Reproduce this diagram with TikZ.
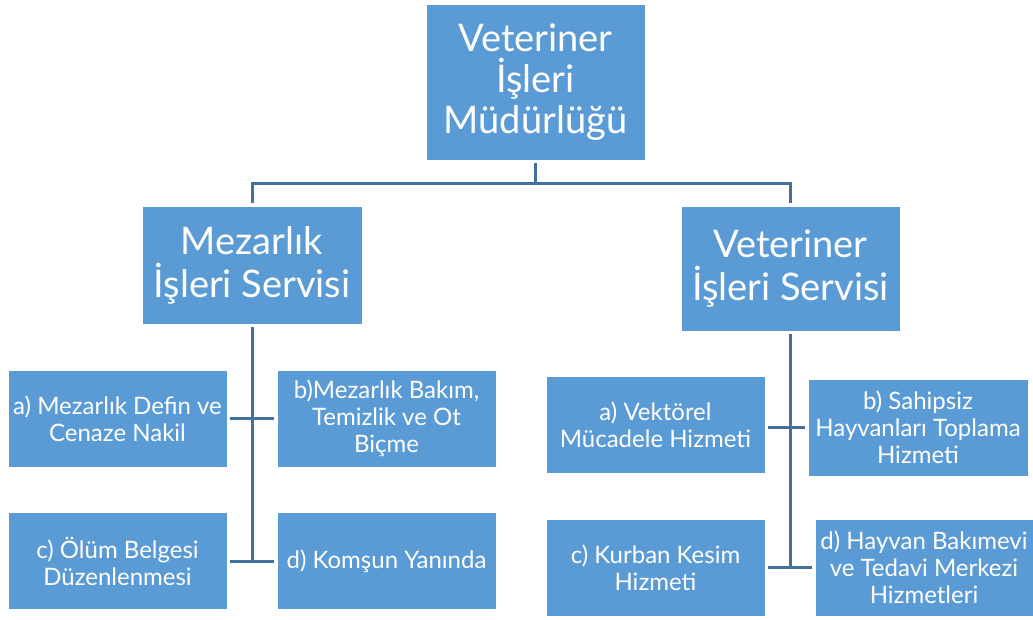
\documentclass[tikz,border=0pt]{standalone}
\usepackage{fontspec}
\setmainfont{Lato}
\usetikzlibrary{positioning}
\definecolor{boxblue}{HTML}{5B9BD5}
\definecolor{lineblue}{HTML}{41719C}
\tikzstyle{bigbox} = [rectangle, fill=boxblue, draw=white, line width=0.8pt, text=white, align=center, inner sep=2pt, font=\fontsize{38}{41}\selectfont]
\tikzstyle{smallbox} = [rectangle, fill=boxblue, draw=white, line width=0.8pt, text=white, align=center, inner sep=2pt, minimum width=219pt, minimum height=97pt, font=\fontsize{24}{27}\selectfont]
\tikzstyle{link} = [lineblue, line width=3pt, shorten <=3pt, shorten >=3pt]

\begin{document}
\begin{tikzpicture}[x=1pt, y=-1pt]
	\useasboundingbox (0,0) rectangle (1033,619);

	\node (mud) [bigbox, minimum width=219pt, minimum height=156pt] at (535.5,82) {Veteriner\\ İşleri\\ Müdürlüğü};
	\node (mez) [bigbox, minimum width=220pt, minimum height=118pt, font=\fontsize{38}{43}\selectfont] at (252,265) {Mezarlık\\ İşleri Servisi};
	\node (vet) [bigbox, minimum width=219pt, minimum height=125pt, font=\fontsize{38}{43}\selectfont] at (790.5,268.5) {Veteriner\\ İşleri Servisi};

	\node (ma) [smallbox] at (117.5,418.5) {a) Mezarlık Defin ve\\ Cenaze Nakil};
	\node (mb) [smallbox] at (386.5,418.5) {b)Mezarlık Bakım,\\ Temizlik ve Ot\\ Biçme};
	\node (mc) [smallbox] at (117.5,561) {c) Ölüm Belgesi\\ Düzenlenmesi};
	\node (md) [smallbox] at (386.5,561) {d) Komşun Yanında};

	\node (va) [smallbox] at (655.5,425) {a) Vektörel\\ Mücadele Hizmeti};
	\node (vb) [smallbox, minimum width=220pt] at (918,427.5) {b) Sahipsiz\\ Hayvanları Toplama\\ Hizmeti};
	\node (vc) [smallbox] at (655.5,567.5) {c) Kurban Kesim\\ Hizmeti};
	\node (vd) [smallbox, minimum width=218pt] at (924,567.5) {d) Hayvan Bakımevi\\ ve Tedavi Merkezi\\ Hizmetleri};

	\coordinate (bus) at (535.5,183);
	\draw [link, shorten >=0pt] (mud.south) -- (bus);
	\draw [link, shorten <=0pt] (bus) -| (mez.north);
	\draw [link, shorten <=0pt] (bus) -| (vet.north);

	\draw [link, shorten >=0pt] (mez.south) -- (mez.south |- mc.east);
	\draw [link] (ma.east) -- (mb.west);
	\draw [link] (mc.east) -- (md.west);

	\draw [link, shorten >=0pt] (vet.south) -- (vet.south |- vc.east);
	\draw [link] (va.east |- vb.west) -- (vb.west);
	\draw [link] (vc.east) -- (vd.west);

\end{tikzpicture}
\end{document}
